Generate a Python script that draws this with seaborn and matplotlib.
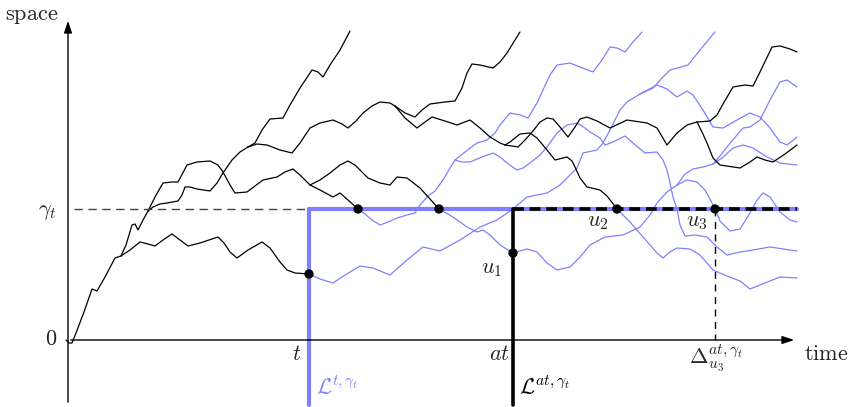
import numpy as np
import pandas as pd
import matplotlib
matplotlib.use("Agg")
import matplotlib.pyplot as plt
import seaborn as sns

# coordinates: x = time (pixels), y = space (pixels, downwards)
BLUE = "#8080ff"

# black paths (before hitting gamma_t)
trunk = [(66, 340), (69, 343), (72, 343), (76, 333), (84, 312), (92, 289), (97, 291), (105, 277), (115, 258), (121, 256)]
branch_a = [(121, 256), (130, 250), (140, 242), (148, 244), (155, 246), (163, 240), (172, 234), (180, 240), (188, 246),
            (200, 243), (218, 237), (224, 243), (230, 252), (237, 258), (248, 250), (262, 242), (270, 248), (280, 262),
            (287, 270), (295, 273), (309, 274)]
branch_b = [(121, 256), (126, 245), (132, 225), (135, 224), (138, 230), (143, 220), (148, 211)]
branch_b1 = [(148, 211), (155, 197), (163, 183), (172, 182), (178, 182), (187, 165), (197, 162), (210, 161), (218, 165),
             (223, 172), (230, 185), (235, 193), (247, 192), (255, 186), (263, 180), (277, 177), (285, 172), (293, 169),
             (300, 175), (310, 185)]
branch_b1a = [(310, 185), (320, 180), (330, 173), (340, 165), (348, 161), (355, 165), (360, 170), (368, 178), (380, 183),
              (390, 185), (397, 177), (407, 178), (420, 188), (430, 199), (439, 209)]
branch_b1b = [(310, 185), (320, 190), (333, 197), (340, 193), (348, 200), (358, 209)]
branch_b2 = [(148, 211), (153, 207), (160, 204), (167, 203), (178, 201), (182, 195), (185, 187), (190, 187), (197, 189),
             (210, 191), (217, 183), (223, 173), (232, 160), (240, 152), (248, 147)]
branch_b2a = [(248, 147), (255, 143), (262, 130), (270, 119), (283, 118), (290, 105), (300, 88), (312, 70), (318, 72),
              (323, 77), (330, 65), (340, 50), (350, 31)]
branch_b2b = [(248, 147), (257, 144), (267, 145), (280, 150), (292, 153), (300, 143), (310, 128), (320, 123), (333, 120),
              (342, 124), (348, 128), (356, 121), (363, 113), (372, 106), (380, 102), (390, 103), (395, 106)]
branch_c1 = [(395, 106), (405, 113), (415, 117), (422, 110), (430, 104), (445, 102), (455, 101), (462, 88), (467, 73),
             (472, 64), (480, 65), (493, 68), (500, 62), (507, 53), (515, 40), (520, 32)]
branch_c2 = [(395, 106), (405, 118), (417, 128), (425, 122), (432, 117), (445, 121), (457, 125), (470, 120), (480, 128),
             (490, 137), (500, 143), (505, 145)]
branch_d1 = [(505, 145), (512, 146), (518, 147), (525, 140), (533, 131), (540, 122), (547, 118), (553, 119), (560, 127),
             (568, 137), (575, 127), (580, 119), (587, 117), (597, 121), (610, 128), (627, 120), (647, 123), (657, 128),
             (667, 145), (677, 133), (687, 125), (697, 122)]
branch_d2 = [(505, 145), (510, 142), (520, 134), (530, 133), (537, 138), (547, 150), (555, 160), (567, 157), (572, 161),
             (575, 167), (580, 178), (587, 187), (600, 190), (607, 196), (617, 209)]
branch_e1 = [(697, 122), (710, 121), (717, 115), (723, 104), (733, 87), (745, 85), (753, 86), (760, 72), (772, 47),
             (780, 46), (790, 49), (797, 52)]
branch_e2 = [(697, 122), (702, 132), (707, 143), (713, 158), (720, 165), (740, 168), (750, 162), (757, 157), (765, 160),
             (773, 162), (785, 154), (797, 145)]

# blue paths (after hitting)
blue_l = [(309, 274), (320, 279), (333, 283), (345, 275), (360, 266), (373, 268), (390, 275), (407, 260), (423, 247),
          (440, 251), (460, 240), (480, 227), (497, 220), (513, 209), (527, 197), (547, 193), (560, 185), (577, 168),
          (583, 153), (597, 150), (603, 143), (610, 130), (620, 110), (627, 102), (640, 94)]
blue_l1 = [(640, 94), (653, 88), (663, 77), (670, 70), (688, 65), (700, 50), (715, 32)]
blue_l2 = [(640, 94), (657, 85), (667, 89), (677, 97), (687, 91), (693, 95), (703, 110), (713, 127), (723, 128),
           (737, 120), (750, 113), (760, 117), (770, 128), (780, 142), (787, 145), (797, 137)]
blue_m = [(358, 209), (365, 214), (372, 220), (380, 225), (388, 222), (397, 218), (407, 215), (415, 213), (420, 205),
          (428, 196), (435, 191), (443, 180), (450, 168), (455, 160)]
blue_m1 = [(455, 160), (462, 162), (470, 162), (482, 157), (493, 153), (500, 157), (507, 163), (517, 170), (523, 168),
           (530, 163), (540, 155), (547, 147), (557, 133), (567, 125), (577, 123), (585, 128), (590, 132), (600, 138),
           (605, 145), (613, 142), (625, 136), (633, 143), (645, 153), (657, 152), (663, 160), (667, 170), (670, 183),
           (673, 197), (677, 209), (680, 225), (685, 236), (695, 235), (707, 237), (717, 247), (727, 255), (740, 252),
           (753, 250), (770, 247), (797, 251)]
blue_m2 = [(455, 160), (465, 152), (477, 143), (487, 140), (495, 133), (500, 125), (510, 113), (520, 115), (528, 118),
           (537, 103), (543, 90), (550, 75), (557, 65), (570, 63), (580, 67), (593, 72), (602, 60), (610, 47), (617, 48),
           (625, 52), (633, 42), (642, 32)]
blue_r = [(439, 209), (453, 217), (467, 227), (477, 232), (483, 230), (490, 235), (500, 245), (513, 253), (527, 249),
          (537, 252), (547, 263), (557, 270), (570, 267), (580, 257), (590, 245), (605, 237), (623, 235), (640, 227),
          (650, 215), (657, 203), (667, 192), (677, 185)]
blue_r1 = [(677, 185), (687, 180), (697, 182), (705, 190), (712, 203), (715, 209), (720, 221), (730, 231), (740, 229),
           (750, 213), (757, 200), (763, 193), (770, 197), (780, 212), (790, 220), (797, 222)]
blue_r2 = [(677, 185), (685, 174), (693, 169), (703, 167), (713, 164)]
blue_r2a = [(713, 164), (722, 158), (733, 148), (743, 145), (753, 148), (767, 157), (780, 163), (797, 165)]
blue_r2b = [(713, 164), (720, 156), (727, 147), (737, 135), (743, 128), (750, 127), (760, 120), (770, 100), (780, 82),
            (787, 80), (797, 87)]
blue_u2 = [(617, 209), (630, 222), (643, 237), (657, 253), (663, 258), (670, 252), (677, 248), (690, 249), (700, 255),
           (713, 270), (727, 276), (740, 281), (750, 289), (760, 285), (780, 277), (797, 278)]

black_paths = [trunk, branch_a, branch_b, branch_b1, branch_b1a, branch_b1b, branch_b2, branch_b2a, branch_b2b,
               branch_c1, branch_c2, branch_d1, branch_d2, branch_e1, branch_e2]
blue_paths = [blue_l, blue_l1, blue_l2, blue_m, blue_m1, blue_m2, blue_r, blue_r1, blue_r2, blue_r2a, blue_r2b,
              blue_u2]

# special points
t_pos, at_pos, u3_pos = 309, 513, 715
gamma_level, zero_level = 209, 340
dots_x = [309, 358, 439, 513, 617, 715]
dots_y = [274, 209, 209, 253, 209, 209]


def to_frame(paths):
    rows = []
    for i, p in enumerate(paths):
        for x, y in p:
            rows.append({"path": i, "x": x, "y": y})
    return pd.DataFrame(rows)


sns.set_theme(style="white")
plt.rcParams["mathtext.fontset"] = "cm"
plt.rcParams["font.family"] = ["DejaVu Serif"]

fig = plt.figure(figsize=(8.49, 4.07), dpi=100)
ax = fig.add_axes([0, 0, 1, 1])
ax.set_xlim(0, 849)
ax.set_ylim(407, 0)
ax.axis("off")

line_kw = dict(x="x", y="y", units="path", estimator=None, sort=False, ax=ax, legend=False,
               lw=0.9, solid_joinstyle="round", solid_capstyle="round")
sns.lineplot(data=to_frame(blue_paths), color=BLUE, **line_kw)
sns.lineplot(data=to_frame(black_paths), color="black", **line_kw)

# axes arrows
ax.annotate("", xy=(68, 18), xytext=(68, 405),
            arrowprops=dict(arrowstyle="-|>,head_length=0.6,head_width=0.2", color="black", lw=1.0))
ax.annotate("", xy=(797, zero_level), xytext=(68, zero_level),
            arrowprops=dict(arrowstyle="-|>,head_length=0.6,head_width=0.2", color="black", lw=1.0))

# levels
ax.plot([74, t_pos], [gamma_level, gamma_level], ls=(0, (6, 4)), color="#444444", lw=1.0)
ax.plot([t_pos, 797], [gamma_level, gamma_level], color=BLUE, lw=3)
ax.plot([t_pos, t_pos], [gamma_level, 405], color=BLUE, lw=3)
ax.plot([at_pos, at_pos], [gamma_level, 405], color="black", lw=2.6)
ax.plot([at_pos, 797], [gamma_level, gamma_level], color="black", lw=2.6, ls=(0, (3.0, 1.6)))
ax.plot([u3_pos, u3_pos], [gamma_level, zero_level], color="black", lw=1.0, ls=(0, (5, 4)))

sns.scatterplot(x=dots_x, y=dots_y, color="black", s=45, ax=ax, zorder=5, edgecolor="none")

fs = 16
ax.text(5, 15, r"$\mathrm{space}$", fontsize=fs, ha="left", va="center")
ax.text(804, 354, r"$\mathrm{time}$", fontsize=fs, ha="left", va="center")
ax.text(57, 339, r"$0$", fontsize=fs, ha="right", va="center")
ax.text(57, 211, r"$\gamma_t$", fontsize=fs, ha="right", va="center")
ax.text(297, 354, r"$t$", fontsize=fs, ha="center", va="center")
ax.text(500, 354, r"$at$", fontsize=fs, ha="center", va="center")
ax.text(492, 268, r"$u_1$", fontsize=fs, ha="center", va="center")
ax.text(598, 221, r"$u_2$", fontsize=fs, ha="center", va="center")
ax.text(697, 221, r"$u_3$", fontsize=fs, ha="center", va="center")
ax.text(716, 358, r"$\Delta_{u_3}^{at,\gamma_t}$", fontsize=fs, ha="center", va="center")
ax.text(316, 388, r"$\mathcal{L}^{t,\gamma_t}$", fontsize=fs, ha="left", va="center", color=BLUE)
ax.text(519, 388, r"$\mathcal{L}^{at,\gamma_t}$", fontsize=fs, ha="left", va="center", color="black")

fig.savefig("out.png", dpi=100)
